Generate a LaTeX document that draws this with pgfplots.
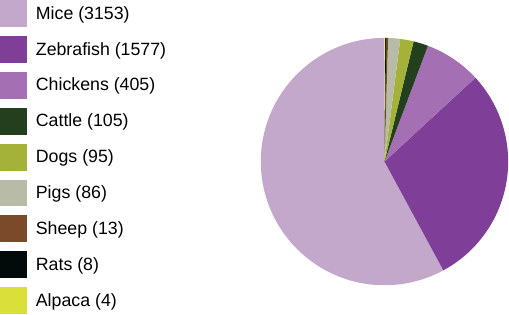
\documentclass[border=0pt]{standalone}
\usepackage{pgfplots}
\usepackage{pgfplotstable}
\pgfplotsset{compat=1.18}
\usepackage{fontspec}
\setmainfont{Liberation Sans}
\definecolor{cMice}{HTML}{C4A8CC}
\definecolor{cZebra}{HTML}{7F3F98}
\definecolor{cChick}{HTML}{A46FB3}
\definecolor{cCattle}{HTML}{233F1E}
\definecolor{cDogs}{HTML}{A4B23A}
\definecolor{cPigs}{HTML}{B8BBA6}
\definecolor{cSheep}{HTML}{7A4A2A}
\definecolor{cRats}{HTML}{030A0A}
\definecolor{cAlpaca}{HTML}{DADF3A}
\pgfplotsset{sqleg/.style={legend image code/.code={\fill[##1] (0pt,-13.5pt) rectangle (27pt,13.5pt);}}}
\pgfplotstableread{
name value col
Mice 3153 cMice
Zebrafish 1577 cZebra
Chickens 405 cChick
Cattle 105 cCattle
Dogs 95 cDogs
Pigs 86 cPigs
Sheep 13 cSheep
Rats 8 cRats
Alpaca 4 cAlpaca
}\pietable
\begin{document}
\begin{tikzpicture}
\begin{axis}[
  width=509pt, height=316pt, scale only axis,
  xmin=0, xmax=509, ymin=0, ymax=316,
  hide axis, clip=false,
  legend style={at={(0,1)}, anchor=north west, draw=none, fill=none,
    inner sep=0pt, outer sep=0pt, row sep=9pt,
    nodes={inner sep=0pt},
    font=\fontsize{17.8}{20}\selectfont,
    /tikz/every odd column/.append style={column sep=9pt}},
  legend cell align=left,
]
\pgfplotstablegetrowsof{\pietable}
\pgfmathtruncatemacro{\nrows}{\pgfplotsretval-1}
\def\total{0}
\pgfplotsforeachungrouped \i in {0,...,\nrows}{%
  \pgfplotstablegetelem{\i}{value}\of\pietable
  \pgfmathsetmacro\total{\total+\pgfplotsretval}%
}
\def\start{90}
\pgfplotsforeachungrouped \i in {0,...,\nrows}{%
  \pgfplotstablegetelem{\i}{value}\of\pietable \let\v\pgfplotsretval
  \pgfplotstablegetelem{\i}{col}\of\pietable \let\c\pgfplotsretval
  \pgfplotstablegetelem{\i}{name}\of\pietable \let\n\pgfplotsretval
  \pgfmathsetmacro\endang{\start+\v/\total*360}%
  \edef\temp{\noexpand\fill[\c] (axis cs:385.5,154) -- ++(\start:124pt) arc[start angle=\start, end angle=\endang, radius=124pt] -- cycle;
    \noexpand\addlegendimage{sqleg, fill=\c, draw=none}
    \noexpand\addlegendentry{\n\space(\v)}}%
  \temp
  \let\start\endang
}
\end{axis}
\end{tikzpicture}
\end{document}
